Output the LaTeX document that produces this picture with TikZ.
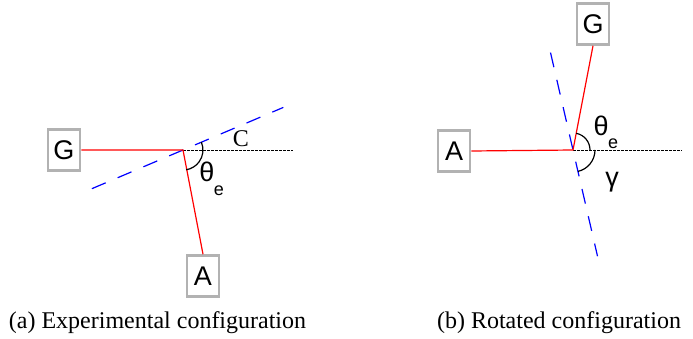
\documentclass[tikz,border=0pt]{standalone}
\usepackage{fontspec}
\setmainfont{Liberation Serif}
\setsansfont{Liberation Sans}
\usetikzlibrary{calc}

\begin{document}
\begin{tikzpicture}[x=1pt,y=1pt,
  labelbox/.style={draw=black!30, line width=2.6pt, minimum width=32pt, minimum height=41pt, inner sep=0pt, font=\sffamily\fontsize{27}{27}\selectfont},
  arm/.style={red, line width=1.2pt},
  axis/.style={black, line width=0.9pt, dash pattern=on 2.5pt off 1.5pt},
  rotaxis/.style={blue, line width=1.2pt, dash pattern=on 15pt off 13pt},
  anglearc/.style={black, line width=1.2pt},
  greek/.style={font=\sffamily\fontsize{27}{27}\selectfont, inner sep=0pt},
  sub/.style={font=\sffamily\fontsize{18}{18}\selectfont, inner sep=0pt},
  caption/.style={font=\fontsize{24}{24}\selectfont, inner sep=0pt, anchor=base}]
\useasboundingbox (0,0) rectangle (693,338);
\coordinate (O1) at (183,188); \coordinate (E1) at (293,188);
\node[labelbox] (G1) at (64,188) {G};
\node[labelbox] (A1) at (203,62) {A};
\draw[rotaxis] ($(O1)+(203:99)$) -- ($(O1)+(23:109)$);
\draw[axis] (O1)--(E1);
\draw[arm] (G1.east)--(O1)--(A1.north);
\draw[anglearc] ($(O1)+(23:20)$) arc[start angle=23, end angle=-81, radius=20];
\node[font=\fontsize{24}{24}\selectfont, inner sep=0pt] (C1) at (241,199) {C};
\node[greek] (T1) at (207,166) {θ};
\node[sub] (S1) at (219,147) {e};
\node[caption] (cap1) at (157.5,10) {(a) Experimental configuration};

\coordinate (O2) at (573,188); \coordinate (E2) at (682,188);
\node[labelbox] (A2) at (454,187) {A};
\node[labelbox] (G2) at (593,314) {G};
\draw[rotaxis] ($(O2)+(103:100)$) -- ($(O2)+(-77:109)$);
\draw[axis] (O2)--(E2);
\draw[arm] (A2.east)--(O2)--(G2.south);
\draw[anglearc] ($(O2)+(0:17)$) arc[start angle=0, end angle=79, radius=17];
\draw[anglearc] ($(O2)+(0:22)$) arc[start angle=0, end angle=-77, radius=22];
\node[greek] (T2) at (601,212) {θ};
\node[sub] (S2) at (613,194) {e};
\node[greek] (Y2) at (612,156) {γ};
\node[caption] (cap2) at (559,10) {(b) Rotated configuration};
\end{tikzpicture}
\end{document}
